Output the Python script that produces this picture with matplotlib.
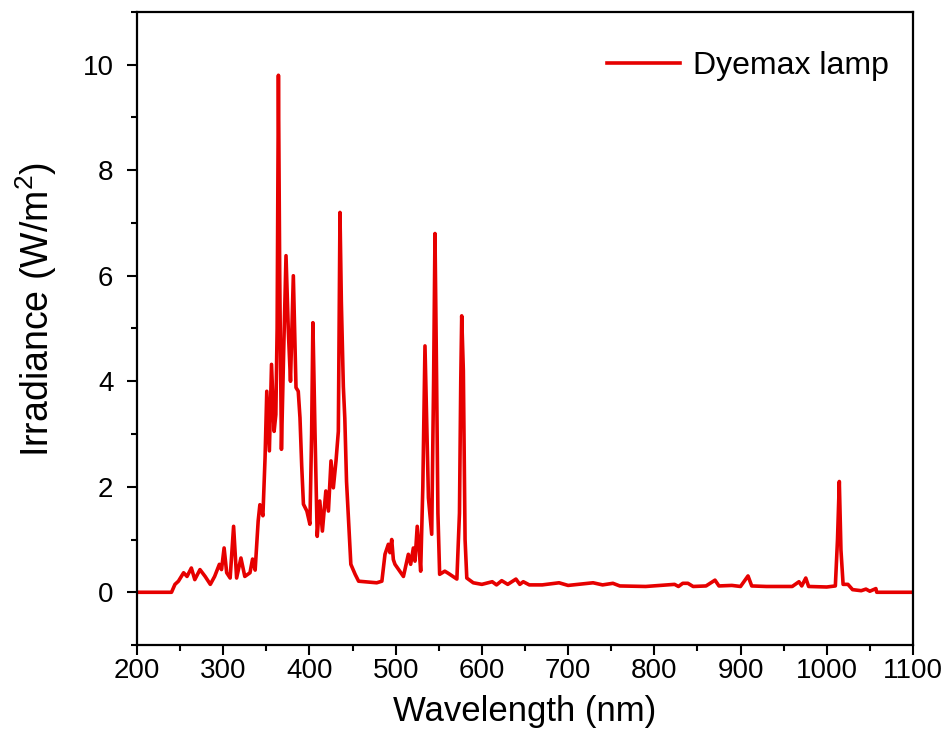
import numpy as np
import matplotlib.pyplot as plt
from matplotlib.ticker import MultipleLocator

plt.rcParams['font.family'] = ['Liberation Sans', 'DejaVu Sans']
plt.rcParams['mathtext.default'] = 'regular'

# spectrum (nm, W/m2)
wavelength = [
    200, 240, 244, 248, 254, 258, 263, 267, 273, 279, 285, 290, 295.5, 298, 301,
    304, 308, 312, 315.5, 320.5, 325, 331, 334, 337, 340.5, 342.5, 346, 348.5,
    350.5, 353.5, 356, 359, 361, 362.5, 364, 365.5, 367.5, 370, 372.8, 375.5,
    378, 381.3, 384.4, 387, 389, 391, 393, 397, 400.5, 402.5, 404, 406.4, 409, 412,
    415, 419, 422, 425, 427.7, 430.8, 433.5, 435.4, 437, 439.3, 441, 443, 448, 453,
    457, 478, 484, 487.6, 491.5, 493.4, 495.4, 497.3, 499.2, 509, 514.7, 517.4,
    520.5, 522.4, 525, 527.4, 529, 531.5, 534, 536, 538, 541.8, 544, 545.6,
    547.5, 549, 551, 557, 561, 571, 574, 575.5, 576.6, 578.5, 580.5, 582.5,
    590, 600, 612, 617, 623, 630, 639.5, 644, 648, 655, 670, 689.5, 700, 729,
    740, 752, 760, 790, 823.5, 828, 833, 839, 845, 860, 870.4, 875, 890, 900,
    908.7, 913, 930, 960, 967.8, 971, 975.7, 979, 1000, 1010, 1012.5, 1014.6,
    1016.5, 1019, 1024.6, 1030, 1040, 1045.5, 1050, 1057, 1058, 1100,
]
irradiance = [
    0, 0, 0.15, 0.21, 0.37, 0.30, 0.46, 0.24, 0.43, 0.30, 0.15, 0.30, 0.53, 0.43, 0.84,
    0.37, 0.27, 1.25, 0.27, 0.65, 0.30, 0.37, 0.63, 0.42, 1.35, 1.66, 1.45, 2.55,
    3.81, 2.68, 4.32, 3.05, 3.37, 5.0, 9.8, 6.0, 2.71, 4.5, 6.38, 4.95,
    4.0, 6.0, 3.88, 3.81, 3.31, 2.4, 1.67, 1.54, 1.29, 3.0, 5.11, 3.05, 1.06, 1.73,
    1.16, 1.92, 1.54, 2.49, 1.98, 2.49, 3.05, 7.2, 5.5, 3.9, 3.3, 2.1, 0.53, 0.34,
    0.21, 0.18, 0.21, 0.72, 0.91, 0.75, 1.0, 0.62, 0.53, 0.30, 0.72, 0.53,
    0.84, 0.59, 1.25, 0.78, 0.40, 2.0, 4.67, 3.2, 1.79, 1.1, 4.0, 6.8,
    4.0, 1.5, 0.34, 0.40, 0.36, 0.25, 1.5, 4.0, 5.24, 4.2, 1.0, 0.27,
    0.18, 0.15, 0.20, 0.14, 0.22, 0.15, 0.25, 0.15, 0.20, 0.14, 0.14, 0.18, 0.13, 0.18,
    0.14, 0.17, 0.12, 0.11, 0.15, 0.11, 0.17, 0.17, 0.11, 0.12, 0.23, 0.12, 0.13, 0.11,
    0.31, 0.12, 0.11, 0.11, 0.20, 0.12, 0.27, 0.11, 0.10, 0.12, 1.0, 2.1,
    0.8, 0.15, 0.15, 0.05, 0.03, 0.06, 0.02, 0.07, 0, 0,
]

fig = plt.figure(figsize=(9.49, 7.47), dpi=100)
ax = fig.add_axes([0.1444, 0.1365, 0.8176, 0.8475])

ax.plot(wavelength, irradiance, color='#e60000', lw=2.6, label='Dyemax lamp')

ax.set_xlim(200, 1100)
ax.set_ylim(-1, 11)
ax.xaxis.set_major_locator(MultipleLocator(100))
ax.xaxis.set_minor_locator(MultipleLocator(50))
ax.yaxis.set_major_locator(MultipleLocator(2))
ax.yaxis.set_minor_locator(MultipleLocator(1))
ax.tick_params(which='both', direction='out', top=False, right=False, width=1.5)
ax.tick_params(which='major', length=7, labelsize=20)
ax.tick_params(which='minor', length=4)
ax.tick_params(axis='y', which='major', pad=10)
ax.tick_params(axis='x', which='major', pad=2)
for s in ax.spines.values():
    s.set_linewidth(1.6)

ax.set_xlabel('Wavelength (nm)', fontsize=25, labelpad=8)
ax.set_ylabel('Irradiance (W/m$^2$)', fontsize=27)
ax.yaxis.set_label_coords(-0.10, 0.53)

ax.legend(loc='upper right', bbox_to_anchor=(0.9853, 0.9583), borderaxespad=0,
          frameon=False, fontsize=23, handlelength=2.3, handletextpad=0.4)

fig.savefig('out.png', dpi=100)
